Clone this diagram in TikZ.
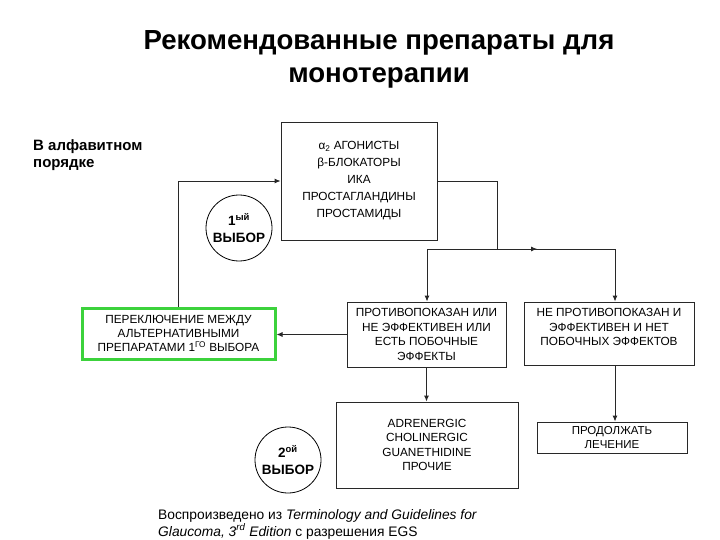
\documentclass[tikz,border=0pt]{standalone}
\usepackage{fontspec}
\setmainfont{Liberation Sans}
\usetikzlibrary{arrows.meta,decorations.markings}
\definecolor{lgreen}{RGB}{60,210,60}
\definecolor{lineg}{RGB}{40,40,40}
\begin{document}
\begin{tikzpicture}[x=1pt,y=-1pt,
  box/.style={draw=lineg, line width=0.9pt, align=center, inner sep=0pt, fill=white,
    font=\fontsize{11.8}{14.5}\selectfont},
  conn/.style={draw=lineg, line width=0.9pt},
  arr/.style={conn, -{Latex[length=6pt,width=5pt]}},
  choice/.style={draw=black, line width=0.8pt, circle, inner sep=0pt, minimum size=66pt,
    align=center, font=\fontsize{13.5}{17}\selectfont\bfseries},
  titlefont/.style={font=\fontsize{27.6}{33}\selectfont\bfseries},
  sidefont/.style={font=\fontsize{15}{18}\selectfont\bfseries},
  footfont/.style={font=\fontsize{13.8}{17}\selectfont}]
\useasboundingbox (0,0) rectangle (720,540);
\fill[white] (0,0) rectangle (720,540);

% titles
\node[titlefont, anchor=base] (t1) at (379,50) {Рекомендованные препараты для};
\node[titlefont, anchor=base] (t2) at (379,83) {монотерапии};
\node[sidefont, anchor=base west, inner sep=0pt] (s1) at (33,151) {В алфавитном};
\node[sidefont, anchor=base west, inner sep=0pt] (s2) at (33,168) {порядке};

% boxes
\node[box, minimum width=156pt, minimum height=118pt,
  font=\fontsize{11.8}{17}\selectfont] (agents) at (359,181)
  {α\textsubscript{2} АГОНИСТЫ\\β-БЛОКАТОРЫ\\ИКА\\ПРОСТАГЛАНДИНЫ\\ПРОСТАМИДЫ};
\node[box, draw=lgreen, line width=3pt, minimum width=193pt, minimum height=51pt,
  font=\fontsize{11.8}{14}\selectfont] (switch) at (178.5,333.5)
  {ПЕРЕКЛЮЧЕНИЕ МЕЖДУ\\АЛЬТЕРНАТИВНЫМИ\\ПРЕПАРАТАМИ 1\textsuperscript{ГО} ВЫБОРА};
\node[box, minimum width=159pt, minimum height=65pt] (contra) at (426.5,334.5)
  {ПРОТИВОПОКАЗАН ИЛИ\\НЕ ЭФФЕКТИВЕН ИЛИ\\ЕСТЬ ПОБОЧНЫЕ\\ЭФФЕКТЫ};
\node[box, minimum width=170pt, minimum height=63pt] (notcontra) at (609,333.5) {};
\node[align=center, inner sep=0pt, font=\fontsize{11.8}{14.5}\selectfont] (notcontratext) at (609,327)
  {НЕ ПРОТИВОПОКАЗАН И\\ЭФФЕКТИВЕН И НЕТ\\ПОБОЧНЫХ ЭФФЕКТОВ};
\node[box, minimum width=182pt, minimum height=86pt] (second) at (427,445)
  {ADRENERGIC\\CHOLINERGIC\\GUANETHIDINE\\ПРОЧИЕ};
\node[box, minimum width=150pt, minimum height=31pt,
  font=\fontsize{11.5}{13.5}\selectfont] (cont) at (612,437.5)
  {ПРОДОЛЖАТЬ\\ЛЕЧЕНИЕ};

% choice circles
\node[choice] (c1) at (239,228) {1\textsuperscript{ый}\\ВЫБОР};
\node[choice] (c2) at (288,460) {2\textsuperscript{ой}\\ВЫБОР};

% connectors
\coordinate (split) at (497,249);
\coordinate (jl) at (427,249);
\coordinate (jr) at (615,249);
\draw[conn] (agents.east) -| (split);
\draw[conn] (jl) -- (split);
\draw[conn, postaction={decorate}, decoration={markings,
  mark=at position 0.34 with {\arrow{Latex[length=6pt,width=5pt]}}}] (split) -- (jr);
\draw[arr] (jl) -- (jl |- contra.north);
\draw[arr] (jr) -- (jr |- notcontra.north);
\draw[arr] (switch.north) |- (agents.west);
\draw[arr] (contra.west) -- (contra.west -| switch.east);
\draw[arr] (contra.south) -- (contra.south |- second.north);
\draw[arr] (notcontra.south -| jr) -- (cont.north -| jr);

% footer
\node[footfont, anchor=base west, inner sep=0pt] (f1) at (158,519)
  {Воспроизведено из \textit{Terminology and Guidelines for}};
\node[footfont, anchor=base west, inner sep=0pt] (f2) at (158,536)
  {\textit{Glaucoma, 3\textsuperscript{rd} Edition} с разрешения EGS};
\end{tikzpicture}
\end{document}
